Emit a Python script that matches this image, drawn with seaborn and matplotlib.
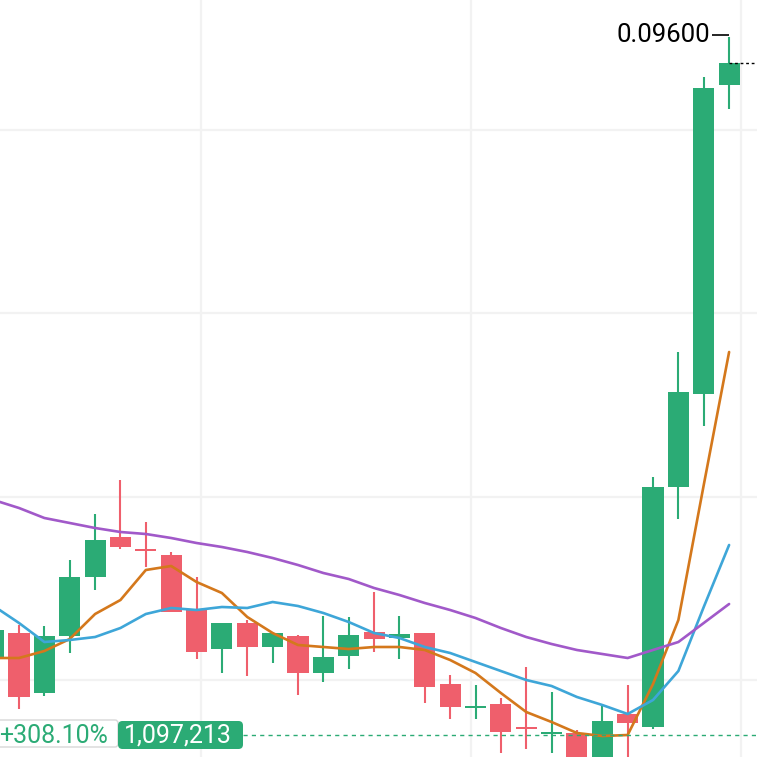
import matplotlib
matplotlib.use("Agg")
import matplotlib.pyplot as plt
from matplotlib.patches import FancyBboxPatch
import numpy as np
import pandas as pd
import seaborn as sns

# candle index -1 is the half-visible one at the left edge
idx = list(range(-1, 29))
opens = [0.0340, 0.0364, 0.0304, 0.0361, 0.0420, 0.0460, 0.0447, 0.0442, 0.0388, 0.0348,
         0.0374, 0.0350, 0.0361, 0.0324, 0.0341, 0.0365, 0.0359, 0.0364, 0.0313, 0.0289,
         0.0293, 0.0269, 0.0263, 0.0264, 0.0232, 0.0283, 0.0270, 0.0510, 0.0603, 0.0912]
highs = [0.0375, 0.0372, 0.0371, 0.0437, 0.0483, 0.0517, 0.0475, 0.0445, 0.0420, 0.0374,
         0.0377, 0.0364, 0.0362, 0.0381, 0.0380, 0.0405, 0.0381, 0.0364, 0.0322, 0.0312,
         0.0299, 0.0330, 0.0305, 0.0267, 0.0293, 0.0312, 0.0520, 0.0645, 0.0920, 0.0960]
lows = [0.0335, 0.0288, 0.0301, 0.0344, 0.0407, 0.0448, 0.0430, 0.0385, 0.0338, 0.0324,
        0.0321, 0.0334, 0.0302, 0.0315, 0.0328, 0.0345, 0.0338, 0.0294, 0.0278, 0.0278,
        0.0244, 0.0248, 0.0244, 0.0222, 0.0227, 0.0227, 0.0268, 0.0478, 0.0571, 0.0888]
closes = [0.0367, 0.0300, 0.0361, 0.0420, 0.0457, 0.0450, 0.0446, 0.0385, 0.0345, 0.0374,
          0.0350, 0.0364, 0.0324, 0.0340, 0.0362, 0.0358, 0.0363, 0.0310, 0.0290, 0.0290,
          0.0265, 0.0268, 0.0264, 0.0227, 0.0276, 0.0274, 0.0510, 0.0605, 0.0909, 0.0934]

ma5 = [0.0339, 0.0339, 0.0346, 0.0358, 0.0383, 0.0397, 0.0427, 0.0431, 0.0415, 0.0404,
       0.0380, 0.0364, 0.0352, 0.0350, 0.0348, 0.0350, 0.0350, 0.0347, 0.0337, 0.0324,
       0.0304, 0.0285, 0.0275, 0.0264, 0.0261, 0.0262, 0.0313, 0.0377, 0.0512, 0.0645]
ma10 = [0.0391, 0.0374, 0.0355, 0.0357, 0.0360, 0.0369, 0.0383, 0.0389, 0.0387, 0.0390,
        0.0389, 0.0395, 0.0391, 0.0384, 0.0375, 0.0364, 0.0359, 0.0350, 0.0344, 0.0335,
        0.0326, 0.0317, 0.0311, 0.0300, 0.0292, 0.0283, 0.0297, 0.0326, 0.0390, 0.0452]
ma20 = [0.0497, 0.0489, 0.0479, 0.0474, 0.0469, 0.0465, 0.0463, 0.0459, 0.0454, 0.0450,
        0.0445, 0.0439, 0.0432, 0.0424, 0.0418, 0.0409, 0.0402, 0.0394, 0.0387, 0.0379,
        0.0369, 0.0360, 0.0353, 0.0347, 0.0343, 0.0339, 0.0347, 0.0355, 0.0374, 0.0393]

grid_x = [7.18, 17.82, 28.47]
grid_y = [0.0867, 0.0684, 0.0500, 0.0317]

marker_price = 0.0262
marker_pct = "+308.10%"
marker_vol = "1,097,213"
high_label = "0.09600"

UP = "#2bab75"
DOWN = "#ef5f6c"

df = pd.DataFrame({"i": idx, "open": opens, "high": highs, "low": lows, "close": closes,
                   "MA5": ma5, "MA10": ma10, "MA20": ma20})
df["up"] = df["close"] >= df["open"]
df["color"] = np.where(df["up"], UP, DOWN)

sns.set_theme(style="white")
plt.rcParams["font.family"] = ["Roboto", "DejaVu Sans"]

fig = plt.figure(figsize=(7.57, 7.57), dpi=100)
ax = fig.add_axes([0, 0, 1, 1])

# wicks and bodies
ax.vlines(df["i"], df["low"], df["high"], colors=df["color"], linewidth=1.5, zorder=2)
body_h = (df["close"] - df["open"]).abs().clip(lower=0.00018)
body_b = df[["open", "close"]].min(axis=1)
ax.bar(df["i"], body_h, bottom=body_b, width=0.83, color=df["color"], linewidth=0, zorder=3)

# moving averages
ma_long = df.melt(id_vars="i", value_vars=["MA5", "MA10", "MA20"], var_name="ma", value_name="v")
sns.lineplot(data=ma_long, x="i", y="v", hue="ma",
             palette={"MA5": "#d4781c", "MA10": "#3ea6d8", "MA20": "#a159c9"},
             linewidth=1.9, legend=False, ax=ax, zorder=4)

ax.set_xlim(-0.75, 29.1)
ax.set_ylim(0.0240, 0.0997)
ax.set_xticks(grid_x)
ax.set_yticks(grid_y)
ax.grid(True, color="#f2f2f2", linewidth=1.6)
ax.tick_params(length=0, labelbottom=False, labelleft=False)
for s in ax.spines.values():
    s.set_visible(False)
ax.set_xlabel("")
ax.set_ylabel("")

# highest price marker
last = df.iloc[-1]
ax.hlines(last["high"] + 0.0002, 27.33, 28.0, colors="black", linewidth=1.2, zorder=5)
ax.text(27.25, last["high"] + 0.0002, high_label, ha="right", va="center",
        fontsize=18.5, color="black", zorder=5)

# last close dotted line
ax.hlines(last["close"], 28.0, 29.1, colors="black", linewidth=1.0,
          linestyles=(0, (2, 2)), zorder=5)

# dashed marker line with boxes at the left
ax.axhline(marker_price, xmin=243 / 757, color=UP, linewidth=1.0,
           linestyle=(0, (3, 3)), zorder=5)

def px(x, y):
    return x / 757, 1 - y / 757

x0, y0 = px(-4, 747)
ax.add_patch(FancyBboxPatch((x0, y0), 122 / 757, 27 / 757, boxstyle="round,pad=0,rounding_size=0.004",
                            transform=ax.transAxes, facecolor="white", edgecolor="#d8d8d8",
                            linewidth=1.0, zorder=6))
x0, y0 = px(118, 749)
ax.add_patch(FancyBboxPatch((x0, y0), 125 / 757, 28 / 757, boxstyle="round,pad=0,rounding_size=0.006",
                            transform=ax.transAxes, facecolor=UP, edgecolor="none", zorder=6))
tx, ty = px(-1, 736)
ax.text(tx, ty, marker_pct, transform=ax.transAxes, ha="left", va="center",
        fontsize=18, color=UP, zorder=7)
tx, ty = px(178, 736)
ax.text(tx, ty, marker_vol, transform=ax.transAxes, ha="center", va="center",
        fontsize=18, color="white", zorder=7)

fig.savefig("out.png", dpi=100)
